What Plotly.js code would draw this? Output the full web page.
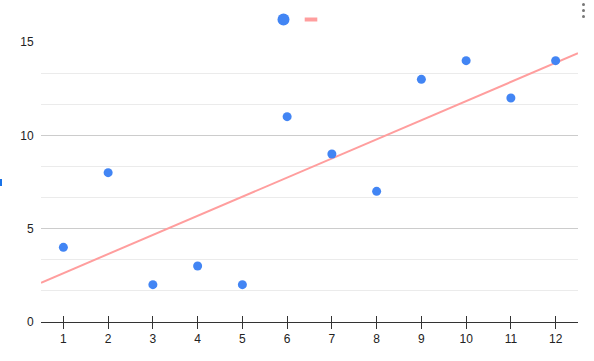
<!DOCTYPE html>
<html>
<head>
<meta charset="utf-8">
<script src="https://cdn.plot.ly/plotly-3.0.1.min.js"></script>
<style>html,body{margin:0;padding:0;background:#fff;}#chart{width:594px;height:361px;}</style>
</head>
<body>
<div id="chart"></div>
<script>
const xValues = [1, 2, 3, 4, 5, 6, 7, 8, 9, 10, 11, 12];
const yValues = [4, 8, 2, 3, 2, 11, 9, 7, 13, 14, 12, 14];
const xTickLabels = ['1','2','3','4','5','6','7','8','9','10','11','12'];
const yTickValues = [0, 5, 10, 15];

// least-squares trendline from the data
const n = xValues.length;
const mx = xValues.reduce((a,b)=>a+b,0)/n;
const my = yValues.reduce((a,b)=>a+b,0)/n;
let sxy = 0, sxx = 0;
for (let i=0;i<n;i++){ sxy += (xValues[i]-mx)*(yValues[i]-my); sxx += (xValues[i]-mx)**2; }
const slope = sxy/sxx, icpt = my - slope*mx;
const xRange = [0.5, 12.5];
const trendX = xRange;
const trendY = xRange.map(x => icpt + slope*x);

const blue = '#4285f4';
const pink = '#ff9e9e';

const traces = [
  {x: trendX, y: trendY, mode: 'lines', line: {color: pink, width: 2}, showlegend: false, hoverinfo: 'skip'},
  {x: xValues, y: yValues, mode: 'markers', marker: {color: blue, size: 9}, showlegend: false},
  {x: [null], y: [null], mode: 'markers', marker: {color: blue, size: 12}, name: '', showlegend: true, legend: 'legend'},
  {x: [null], y: [null], mode: 'markers', marker: {symbol: 'line-ew', size: 9, color: pink, line: {color: pink, width: 4}}, name: '', showlegend: true, legend: 'legend2'},
  {x: [1], y: [0], xaxis: 'x2', mode: 'markers', marker: {opacity: 0}, showlegend: false, hoverinfo: 'skip'}
];

const legendBase = {orientation: 'h', xref: 'container', xanchor: 'left', y: 1 - 5/361, yref: 'container', yanchor: 'top',
                    font: {size: 12}, bgcolor: 'rgba(0,0,0,0)'};

const layout = {
  width: 594, height: 361,
  margin: {l: 41, r: 16, t: 42, b: 39},
  paper_bgcolor: '#fff', plot_bgcolor: '#fff',
  font: {family: 'Liberation Sans, Arial, sans-serif', size: 12, color: '#222'},
  showlegend: true,
  legend: Object.assign({}, legendBase, {x: 263.5/594}),
  legend2: Object.assign({}, legendBase, {x: 291/594}),
  xaxis: {
    range: xRange, tickmode: 'array', tickvals: xValues, ticktext: xTickLabels,
    showgrid: false, zeroline: false, showline: true, linecolor: '#333', linewidth: 1,
    ticks: 'outside', ticklen: 6, tickcolor: '#333', tickwidth: 1,
    tickfont: {size: 12, color: '#222'}
  },
  xaxis2: {
    overlaying: 'x', matches: 'x', anchor: 'y', side: 'bottom', range: xRange,
    tickmode: 'array', tickvals: xValues, showticklabels: false,
    showgrid: false, zeroline: false, showline: false,
    ticks: 'inside', ticklen: 6, tickcolor: '#333', tickwidth: 1
  },
  yaxis: {
    range: [0, 15], tickmode: 'array', tickvals: yTickValues,
    showgrid: true, gridcolor: '#cccccc', gridwidth: 1, zeroline: false, showline: false,
    ticks: 'outside', ticklen: 4, tickcolor: 'rgba(0,0,0,0)',
    tickfont: {size: 12, color: '#222'},
    minor: {dtick: 5/3, tick0: 0, showgrid: true, gridcolor: '#ebebeb', gridwidth: 1, ticks: ''}
  },
  // pixel-placed decorations: selection marker at left edge and menu dots top-right
  shapes: [
    {type: 'rect', xref: 'paper', yref: 'paper', xsizemode: 'pixel', ysizemode: 'pixel',
     xanchor: -41/537, x0: 0, x1: 2, yanchor: 0.5, y0: -4, y1: 3, fillcolor: '#1a73e8', line: {width: 0}},
    {type: 'circle', xref: 'paper', yref: 'paper', xsizemode: 'pixel', ysizemode: 'pixel',
     xanchor: 1, x0: 4, x1: 7, yanchor: 1, y0: 36, y1: 39, fillcolor: '#777', line: {width: 0}},
    {type: 'circle', xref: 'paper', yref: 'paper', xsizemode: 'pixel', ysizemode: 'pixel',
     xanchor: 1, x0: 4, x1: 7, yanchor: 1, y0: 30, y1: 33, fillcolor: '#777', line: {width: 0}},
    {type: 'circle', xref: 'paper', yref: 'paper', xsizemode: 'pixel', ysizemode: 'pixel',
     xanchor: 1, x0: 4, x1: 7, yanchor: 1, y0: 24, y1: 27, fillcolor: '#777', line: {width: 0}}
  ]
};

Plotly.newPlot('chart', traces, layout, {displayModeBar: false, staticPlot: true});
</script>
</body>
</html>
